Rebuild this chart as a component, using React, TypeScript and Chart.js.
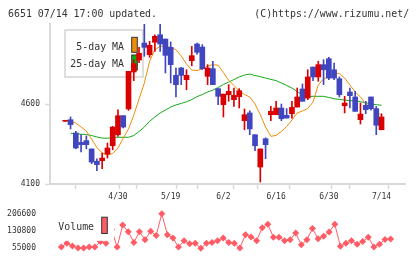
import React, { useEffect, useRef } from "react";
import { Chart, registerables } from "chart.js";

Chart.register(...registerables);

// ---- data ----
const dates = [
  "4/15", "4/16", "4/17", "4/20", "4/21", "4/22", "4/23", "4/24", "4/27", "4/28",
  "4/30", "5/1", "5/7", "5/8", "5/11", "5/12", "5/13", "5/14", "5/15", "5/18",
  "5/19", "5/20", "5/21", "5/22", "5/25", "5/26", "5/27", "5/28", "5/29", "6/1",
  "6/2", "6/3", "6/4", "6/5", "6/8", "6/9", "6/10", "6/11", "6/12", "6/15",
  "6/16", "6/17", "6/18", "6/19", "6/22", "6/23", "6/24", "6/25", "6/26", "6/29",
  "6/30", "7/1", "7/2", "7/3", "7/6", "7/7", "7/8", "7/9", "7/10", "7/13",
  "7/14",
];
const labeledDates = ["4/30", "5/19", "6/2", "6/16", "6/30", "7/14"];

const open = [
  4492, 4502, 4419, 4360, 4371, 4319, 4242, 4246, 4287, 4339,
  4408, 4527, 4569, 4800, 4875, 4981, 4908, 4986, 5033, 5006,
  4954, 4779, 4825, 4752, 4871, 4975, 4956, 4773, 4821, 4696,
  4596, 4658, 4627, 4646, 4496, 4544, 4408, 4206, 4383, 4533,
  4533, 4575, 4529, 4539, 4581, 4694, 4637, 4831, 4769, 4846,
  4883, 4814, 4758, 4589, 4675, 4644, 4502, 4592, 4644, 4571,
  4439,
];
const high = [
  4492, 4519, 4429, 4408, 4400, 4319, 4258, 4294, 4356, 4460,
  4564, 4527, 4804, 4877, 4954, 5120, 4992, 5033, 5120, 5006,
  4988, 4825, 4829, 4814, 4960, 4981, 4971, 4846, 4867, 4696,
  4662, 4721, 4700, 4696, 4569, 4558, 4408, 4319, 4388, 4585,
  4617, 4600, 4571, 4617, 4700, 4725, 4814, 4831, 4867, 4877,
  4892, 4856, 4769, 4648, 4700, 4679, 4606, 4617, 4644, 4585,
  4539,
];
const low = [
  4492, 4444, 4320, 4300, 4320, 4227, 4183, 4196, 4262, 4314,
  4398, 4450, 4560, 4746, 4858, 4898, 4892, 4929, 4929, 4794,
  4731, 4644, 4721, 4689, 4839, 4912, 4815, 4721, 4721, 4596,
  4519, 4617, 4585, 4575, 4439, 4408, 4308, 4112, 4258, 4496,
  4533, 4496, 4512, 4512, 4581, 4617, 4627, 4746, 4742, 4721,
  4752, 4752, 4644, 4544, 4575, 4554, 4475, 4539, 4561, 4408,
  4439,
];
const close = [
  4492, 4471, 4325, 4346, 4346, 4237, 4221, 4262, 4325, 4456,
  4527, 4456, 4804, 4852, 4917, 4954, 4967, 5023, 4975, 4904,
  4846, 4721, 4779, 4779, 4902, 4923, 4821, 4825, 4721, 4648,
  4662, 4679, 4654, 4683, 4533, 4444, 4339, 4319, 4346, 4554,
  4575, 4508, 4512, 4579, 4644, 4617, 4769, 4769, 4846, 4814,
  4762, 4762, 4658, 4606, 4652, 4554, 4537, 4564, 4571, 4467,
  4519,
];
const ma5 = [
  null,
  4492, 4481, 4456, 4431, 4381, 4328, 4294, 4281, 4291, 4325,
  4387, 4444, 4531, 4631, 4731, 4867, 4939, 4961, 4961, 4954,
  4939, 4900, 4850, 4812, 4809, 4819, 4837, 4846, 4842, 4797,
  4747, 4716, 4681, 4659, 4644, 4600, 4533, 4456, 4398, 4404,
  4428, 4459, 4500, 4544, 4556, 4572, 4612, 4719, 4756, 4772,
  4792, 4791, 4762, 4719, 4675, 4644, 4600, 4581, 4559, 4523,
];
const ma25 = [
  null,
  4417, 4414, 4411, 4409, 4403, 4394, 4387, 4386, 4391, 4392,
  4392, 4392, 4403, 4428, 4456, 4492, 4519, 4544, 4562, 4581,
  4594, 4604, 4614, 4628, 4646, 4659, 4675, 4687, 4703, 4722,
  4737, 4753, 4769, 4781, 4787, 4778, 4771, 4762, 4754, 4746,
  4731, 4716, 4700, 4678, 4656, 4647, 4648, 4648, 4648, 4641,
  4633, 4629, 4625, 4621, 4619, 4614, 4608, 4600, 4596, 4592,
];
const volume = [
  null,
  60100, 76600, 65200, 56300, 56300, 60100, 60100, 84300, 76600, 137100,
  60100, 156800, 127600, 80500, 127600, 91900, 130100, 111000, 206600, 114800,
  99600, 60100, 88100, 74100, 76600, 55000, 76600, 80500, 88100, 99600,
  80500, 76600, 56300, 114800, 104600, 88100, 145400, 160700, 103400, 103400,
  88100, 91900, 122500, 70300, 91900, 141600, 97000, 107200, 126300, 160700,
  63900, 76600, 88100, 72800, 84300, 103400, 60100, 72800, 93200, 95700,
];
const priceTicks = [4100, 4600];
const volumeTicks = [55000, 130800, 206600];

// ---- styles ----
const UP = "rgb(218,0,0)";
const DOWN = "rgb(64,70,192)";
const ORANGE = "rgb(240,140,10)";
const GREEN = "rgb(20,170,20)";
const VOL = "rgb(255,92,102)";
const GRID = "#d9d9d9";
const TEXT = "#333";
const MONO = '"DejaVu Sans Mono", monospace';
const X_MIN = -1.025;
const X_MAX = 62.58;

const candleColor = (i: number) => (close[i] >= open[i] ? UP : DOWN);

const maLegend = {
  id: "maLegend",
  beforeDatasetsDraw(chart: any) {
    const { ctx, chartArea: a } = chart;
    const items = chart.data.datasets.filter((d: any) => d.type === "line");
    ctx.save();
    ctx.fillStyle = "#fff";
    ctx.fillRect(a.left + 15, a.top + 6, 78, 47);
    ctx.strokeStyle = "#d4d4d4";
    ctx.lineWidth = 1.5;
    ctx.strokeRect(a.left + 15, a.top + 6, 78, 47);
    ctx.font = "11px " + MONO;
    ctx.textAlign = "right";
    ctx.textBaseline = "alphabetic";
    items.forEach((d: any, k: number) => {
      ctx.save();
      ctx.translate(a.left + 74, a.top + 26 + k * 16.7);
      ctx.scale(0.9, 1);
      ctx.fillStyle = TEXT;
      ctx.fillText(d.label, 0, 0);
      ctx.restore();
      const sy = a.top + 13.3 + k * 17.7;
      ctx.fillStyle = d.borderColor;
      ctx.fillRect(a.left + 81.7, sy, 5.6, 15);
      ctx.strokeStyle = "#333";
      ctx.lineWidth = 1;
      ctx.strokeRect(a.left + 81.7, sy, 5.6, 15);
    });
    ctx.restore();
  },
};

const volLegend = {
  id: "volLegend",
  afterDatasetsDraw(chart: any) {
    const { ctx, chartArea: a } = chart;
    const d = chart.data.datasets[0];
    ctx.save();
    ctx.fillStyle = "#fff";
    ctx.fillRect(a.left + 5, a.top + 0.5, 59, 26.5);
    ctx.font = "11px " + MONO;
    ctx.textAlign = "left";
    ctx.textBaseline = "alphabetic";
    ctx.save();
    ctx.translate(a.left + 8.3, a.top + 16.4);
    ctx.scale(0.9, 1);
    ctx.fillStyle = TEXT;
    ctx.fillText(d.label, 0, 0);
    ctx.restore();
    ctx.fillStyle = d.borderColor;
    ctx.fillRect(a.left + 51.7, a.top + 3.4, 5.6, 16.3);
    ctx.strokeStyle = "#333";
    ctx.lineWidth = 1;
    ctx.strokeRect(a.left + 51.7, a.top + 3.4, 5.6, 16.3);
    ctx.restore();
  },
};

export default function App() {
  const mainRef = useRef<HTMLCanvasElement>(null);
  const volRef = useRef<HTMLCanvasElement>(null);

  useEffect(() => {
    document.body.style.margin = "0";
    Chart.defaults.font.family = MONO;
    Chart.defaults.color = TEXT;

    const main = new Chart(mainRef.current as HTMLCanvasElement, {
      type: "bar",
      data: {
        datasets: [
          {
            type: "line",
            label: "5-day MA",
            data: ma5.map((v, i) => ({ x: i, y: v })),
            borderColor: ORANGE,
            backgroundColor: ORANGE,
            borderWidth: 1,
            pointRadius: 0,
            order: 2,
          } as any,
          {
            type: "line",
            label: "25-day MA",
            data: ma25.map((v, i) => ({ x: i, y: v })),
            borderColor: GREEN,
            backgroundColor: GREEN,
            borderWidth: 1,
            pointRadius: 0,
            order: 3,
          } as any,
          {
            type: "bar",
            label: "body",
            data: open.map((o, i) => ({ x: i, y: [o, close[i]] })),
            backgroundColor: (c: any) => candleColor(c.dataIndex),
            barThickness: 5,
            minBarLength: 1,
            grouped: false,
            order: 0,
          } as any,
          {
            type: "bar",
            label: "wick",
            data: low.map((l, i) => ({ x: i, y: [l, high[i]] })),
            backgroundColor: (c: any) => candleColor(c.dataIndex),
            barThickness: 1,
            grouped: false,
            order: 1,
          } as any,
        ],
      },
      options: {
        responsive: false,
        animation: false,
        layout: { padding: { top: 24, right: 15, left: 0, bottom: 0 } },
        plugins: { legend: { display: false }, tooltip: { enabled: false } },
        scales: {
          x: {
            type: "linear",
            min: X_MIN,
            max: X_MAX,
            afterBuildTicks: (s: any) => {
              const t: any[] = [];
              for (let k = 0; k <= 11; k++) {
                t.push({ value: X_MIN + (k * (X_MAX - X_MIN)) / 11, gridMark: true });
              }
              dates.forEach((d, i) => {
                if (labeledDates.includes(d)) t.push({ value: i });
              });
              t.sort((p, q) => p.value - q.value);
              s.ticks = t;
            },
            afterFit: (s: any) => {
              s.height = 19;
            },
            ticks: {
              autoSkip: false,
              maxRotation: 0,
              minRotation: 0,
              padding: 3,
              font: { family: MONO, size: 8 },
              color: TEXT,
              callback: (v: any) => {
                const i = Math.round(v);
                return Math.abs(v - i) < 1e-9 && labeledDates.includes(dates[i]) ? dates[i] : "";
              },
            },
            grid: {
              drawOnChartArea: false,
              tickLength: 5,
              tickWidth: 1.5,
              tickColor: (c: any) => (c.tick && c.tick.gridMark ? GRID : "rgba(0,0,0,0)"),
            },
            border: { display: true, color: GRID, width: 2 },
          },
          y: {
            min: 4100,
            max: 5100,
            afterBuildTicks: (s: any) => {
              s.ticks = priceTicks.map((v) => ({ value: v }));
            },
            afterFit: (s: any) => {
              s.width = 50;
            },
            ticks: {
              padding: 5,
              font: { family: MONO, size: 8 },
              color: TEXT,
              callback: (v: any) => String(v),
            },
            grid: { drawOnChartArea: false, tickLength: 5, tickWidth: 1.5, tickColor: GRID },
            border: { display: true, color: GRID, width: 2 },
          },
        },
      } as any,
      plugins: [maLegend],
    });

    const vol = new Chart(volRef.current as HTMLCanvasElement, {
      type: "line",
      data: {
        datasets: [
          {
            label: "Volume",
            data: volume.map((v, i) => ({ x: i, y: v })),
            borderColor: VOL,
            backgroundColor: VOL,
            borderWidth: 1,
            pointStyle: "rectRot",
            pointRadius: 3.5,
            pointBorderWidth: 0,
            pointBackgroundColor: VOL,
            clip: false,
          } as any,
        ],
      },
      options: {
        responsive: false,
        animation: false,
        layout: { padding: { top: 6.3, right: 15, left: 0, bottom: 10 } },
        plugins: { legend: { display: false }, tooltip: { enabled: false } },
        scales: {
          x: { type: "linear", min: X_MIN, max: X_MAX, display: false },
          y: {
            min: 55000,
            max: 206600,
            afterBuildTicks: (s: any) => {
              s.ticks = volumeTicks.map((v) => ({ value: v }));
            },
            afterFit: (s: any) => {
              s.width = 50;
            },
            ticks: {
              padding: 6,
              font: { family: MONO, size: 8 },
              color: TEXT,
              callback: (v: any) => String(v),
            },
            grid: { display: false },
            border: { display: false },
          },
        },
      } as any,
      plugins: [volLegend],
    });

    return () => {
      main.destroy();
      vol.destroy();
    };
  }, []);

  const headerBase: React.CSSProperties = {
    position: "absolute",
    top: 8,
    fontFamily: MONO,
    fontSize: 11,
    lineHeight: "11px",
    color: TEXT,
    whiteSpace: "nowrap",
    zIndex: 2,
  };

  return (
    <div style={{ position: "relative", width: 420, height: 259, background: "#fff", overflow: "hidden" }}>
      <canvas ref={mainRef} width={420} height={203} style={{ position: "absolute", left: 0, top: 0 }} />
      <canvas ref={volRef} width={420} height={56} style={{ position: "absolute", left: 0, top: 203 }} />
      <div style={{ ...headerBase, left: 8, transform: "scaleX(0.9)", transformOrigin: "left top" }}>
        6651 07/14 17:00 updated.
      </div>
      <div style={{ ...headerBase, right: 10.7, transform: "scaleX(0.9)", transformOrigin: "right top" }}>
        (C)https://www.rizumu.net/
      </div>
    </div>
  );
}
